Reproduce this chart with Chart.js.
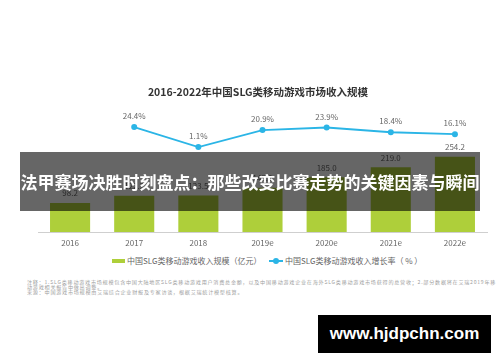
<!DOCTYPE html>
<html lang="zh">
<head>
    <meta charset="UTF-8">
    <title>2016-2022年中国SLG类移动游戏市场收入规模</title>
    <script src="https://cdn.jsdelivr.net/npm/chart.js"></script>
    <style>
        body {
            margin: 0;
            background: #ffffff;
            font-family: "Noto Sans CJK SC", "Noto Sans", sans-serif;
        }
        .wrap {
            position: relative;
            width: 500px;
            height: 362px;
            overflow: hidden;
        }
        .chart-box {
            position: absolute;
            left: 0;
            top: 0;
            width: 500px;
            height: 250px;
        }
        .title {
            position: absolute;
            left: 0;
            width: 516px;
            top: 84px;
            text-align: center;
            font-size: 10.5px;
            font-weight: bold;
            color: #333;
            line-height: 15px;
        }
        .legend {
            position: absolute;
            top: 255px;
            left: 0;
            width: 500px;
            font-size: 8px;
            color: #666;
            line-height: 12px;
        }
        .legend span { position: absolute; white-space: nowrap; }
        .swatch-bar {
            position: absolute;
            left: 112px;
            top: 4px;
            width: 13px;
            height: 4px;
            background: #aecf3a;
        }
        .swatch-line {
            position: absolute;
            left: 269px;
            top: 5px;
            width: 14px;
            height: 2px;
            background: #2bb5e6;
        }
        .swatch-dot {
            position: absolute;
            left: 273px;
            top: 3px;
            width: 6px;
            height: 6px;
            border-radius: 50%;
            background: #2bb5e6;
        }
        .notes {
            position: absolute;
            left: 27px;
            top: 278.5px;
            width: 470px;
            color: #a0a0a0;
        }
        .notes div {
            font-size: 5.1px;
            letter-spacing: 0.75px;
            line-height: 5.2px;
            height: 5.2px;
            white-space: nowrap;
        }
        .banner {
            position: absolute;
            left: 20px;
            top: 152px;
            width: 460px;
            height: 59px;
            background: rgba(0, 0, 0, 0.6);
            color: #fff;
            font-size: 17px;
            font-weight: bold;
            line-height: 59px;
            text-align: center;
            white-space: nowrap;
        }
        .mark {
            position: absolute;
            left: 318px;
            top: 315px;
            width: 173px;
            height: 38px;
            background: #000;
            color: #fff;
            font-family: "Liberation Sans", Arial, sans-serif;
            font-size: 17px;
            font-weight: bold;
            line-height: 38px;
            text-align: center;
        }
    </style>
</head>
<body>
<div class="wrap">
    <div class="chart-box"><canvas id="chart"></canvas></div>
    <div class="title">2016-2022年中国SLG类移动游戏市场收入规模</div>

    <div class="legend">
        <div class="swatch-bar"></div>
        <span style="left:127px">中国SLG类移动游戏收入规模（亿元）</span>
        <div class="swatch-line"></div>
        <div class="swatch-dot"></div>
        <span style="left:285px">中国SLG类移动游戏收入增长率（ % ）</span>
    </div>

    <div class="notes">
        <div>注释：1.SLG类移动游戏市场规模包含中国大陆地区SLG类移动游戏用户消费总金额，以及中国移动游戏企业在海外SLG类移动游戏市场获得的总营收；2.部分数据将在艾瑞2019年移</div>
        <div>动游戏相关报告中做出调整。</div>
        <div>来源：中国游戏市场规模由艾瑞综合企业财报及专家访谈，根据艾瑞统计模型核算。</div>
    </div>

    <div class="banner">法甲赛场决胜时刻盘点：那些改变比赛走势的关键因素与瞬间</div>
    <div class="mark">www.hjdpchn.com</div>
</div>

<script>
    // data
    const years = ['2016', '2017', '2018', '2019e', '2020e', '2021e', '2022e'];
    const revenue = [98.2, 122.2, 123.5, 149.3, 185.0, 219.0, 254.2];
    const growth = [null, 24.4, 1.1, 20.9, 23.9, 18.4, 16.1];

    const BAR_COLOR = '#aecf3a';
    const LINE_COLOR = '#2bb5e6';

    // draws the value labels above bars and points
    const valueLabels = {
        id: 'valueLabels',
        afterDatasetsDraw(chart) {
            const ctx = chart.ctx;
            ctx.save();
            ctx.font = '8px "Noto Sans CJK SC", sans-serif';
            ctx.fillStyle = '#666';
            ctx.textAlign = 'center';
            ctx.textBaseline = 'middle';
            chart.data.datasets.forEach((ds, i) => {
                const meta = chart.getDatasetMeta(i);
                meta.data.forEach((el, j) => {
                    const v = ds.data[j];
                    if (v === null || v === undefined) return;
                    if (ds.type === 'line') {
                        ctx.fillText(v.toFixed(1) + '%', el.x, el.y - 11);
                    } else {
                        ctx.fillText(v.toFixed(1), el.x, el.y - 9.5);
                    }
                });
            });
            ctx.restore();
        }
    };

    new Chart(document.getElementById('chart'), {
        data: {
            labels: years,
            datasets: [
                {
                    type: 'line',
                    label: '中国SLG类移动游戏收入增长率（%）',
                    data: growth,
                    yAxisID: 'y1',
                    borderColor: LINE_COLOR,
                    backgroundColor: LINE_COLOR,
                    borderWidth: 1.8,
                    pointRadius: 3,
                    pointBackgroundColor: LINE_COLOR,
                    pointBorderWidth: 0,
                    tension: 0,
                    spanGaps: false,
                    order: 0
                },
                {
                    type: 'bar',
                    label: '中国SLG类移动游戏收入规模（亿元）',
                    data: revenue,
                    yAxisID: 'y',
                    backgroundColor: BAR_COLOR,
                    categoryPercentage: 1,
                    barPercentage: 0.625,
                    order: 1
                }
            ]
        },
        options: {
            responsive: true,
            maintainAspectRatio: false,
            animation: false,
            layout: {
                padding: { left: 38, right: 13, top: 100, bottom: 0 }
            },
            plugins: {
                legend: { display: false },
                title: { display: false },
                tooltip: { enabled: false }
            },
            scales: {
                x: {
                    grid: { display: false, drawTicks: false },
                    border: { display: true, color: '#cfcfcf', width: 1 },
                    ticks: {
                        color: '#666',
                        padding: 6,
                        font: { size: 8, family: '"Noto Sans CJK SC", sans-serif' }
                    },
                    afterFit(axis) { axis.height = 18; }
                },
                y: {
                    display: false,
                    min: 0,
                    max: 446
                },
                y1: {
                    display: false,
                    min: -98,
                    max: 56
                }
            }
        },
        plugins: [valueLabels]
    });
</script>
</body>
</html>
